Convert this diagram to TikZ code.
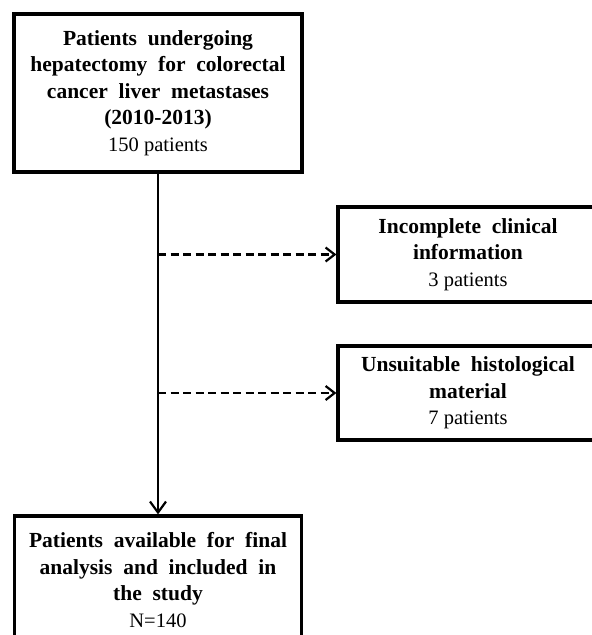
\documentclass[tikz,border=0pt]{standalone}
\usepackage{fontspec}
\setmainfont{Liberation Serif}
\usetikzlibrary{arrows.meta}
\newcommand{\hd}[1]{{\bfseries\fontsize{21.5}{26.5}\selectfont\spaceskip=.5em\relax #1}}

\begin{document}
\begin{tikzpicture}[x=1pt,y=-1pt,
  box/.style={draw,line width=3.2pt,align=center,inner sep=0pt,
    font=\fontsize{20.5}{26.5}\selectfont},
  flow/.style={line width=2.2pt,-{Straight Barb[length=11pt,width=16pt]}},
  skip/.style={line width=2.2pt,dash pattern=on 8pt off 4.5pt,
    -{Straight Barb[length=9pt,width=14pt]}}]

  \useasboundingbox (0,0) rectangle (592,635);

  \node[box,minimum width=288pt,minimum height=158pt] (cohort) at (158,93)
    {\hd{Patients undergoing}\\\hd{hepatectomy for colorectal}\\
     \hd{cancer liver metastases}\\\hd{(2010-2013)}\\150 patients};
  \node[box,minimum width=260pt,minimum height=95pt] (incomplete) at (468,254.5)
    {\hd{Incomplete clinical}\\\hd{information}\\3 patients};
  \node[box,minimum width=260pt,minimum height=94pt] (unsuitable) at (468,393)
    {\hd{Unsuitable histological}\\\hd{material}\\7 patients};
  \node[box,minimum width=287pt,minimum height=128pt] (final) at (158,580)
    {\hd{Patients available for final}\\\hd{analysis and included in}\\
     \hd{the study}\\N=140};

  \draw[flow] (cohort.south) -- (final.north);
  \draw[skip] (cohort.south |- incomplete.west) -- (incomplete.west);
  \draw[skip] (cohort.south |- unsuitable.west) -- (unsuitable.west);

\end{tikzpicture}
\end{document}
